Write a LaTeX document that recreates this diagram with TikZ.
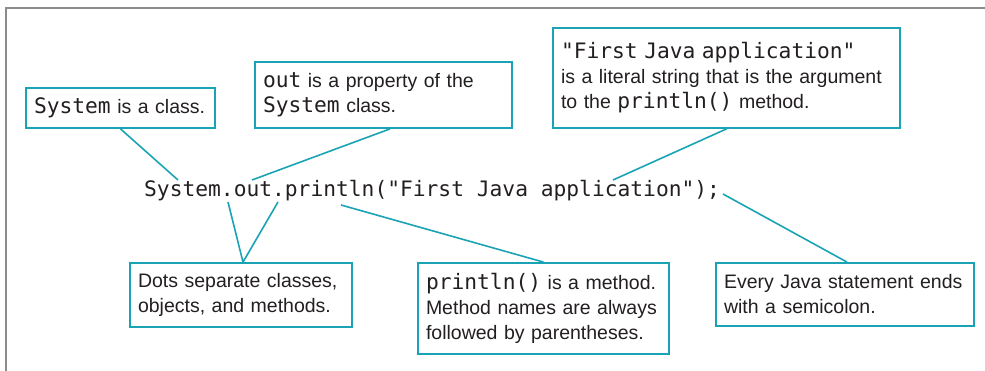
\documentclass[tikz,border=0pt]{standalone}
\usepackage{fontspec}
\setmainfont{Liberation Sans}
\setmonofont{DejaVu Sans Mono}[Scale=1.09]
\definecolor{teal1}{HTML}{1AA3B4}
\definecolor{frame1}{HTML}{8C8C8C}
\definecolor{ink}{HTML}{231F20}
\tikzset{
  callout/.style={draw=teal1, line width=1.8pt, fill=white, inner xsep=8pt, inner ysep=0pt,
    align=left, text=ink, font=\fontsize{19.5}{25}\selectfont, anchor=center},
  link/.style={draw=teal1, line width=1.6pt}
}
\begin{document}
\begin{tikzpicture}[x=1pt,y=-1pt]
\useasboundingbox (0,0) rectangle (985,371);
\draw[frame1, line width=2pt] (6,371) -- (6,8) -- (985,8);

\node[anchor=base west, inner sep=0pt, text=ink, font=\fontsize{19.5}{25}\selectfont\ttfamily] (code) at (144,197)
  {System.out.println("First Java application");};

\coordinate (cSys) at (178,180);
\coordinate (cOut) at (252,180);
\coordinate (cStr) at (613,180);
\coordinate (cDot1) at (228,202);
\coordinate (cDot2) at (278,202);
\coordinate (cPrn) at (341,205);
\coordinate (cSemi) at (723,194);

\node[callout, minimum width=189pt, minimum height=40pt, text width=173pt] (b1) at (120.5,108)
  {\texttt{System} is a class.};
\node[callout, minimum width=257pt, minimum height=66pt, text width=241pt] (b2) at (383.5,95)
  {\texttt{out} is a property of the\\\texttt{System} class.};
\node[callout, minimum width=347pt, minimum height=100pt, text width=331pt] (b3) at (726.5,78)
  {\texttt{"First Java application"}\\is a literal string that is the argument\\to the \texttt{println()} method.};
\node[callout, minimum width=222pt, minimum height=64pt, text width=206pt] (b4) at (241,295)
  {Dots separate classes,\\objects, and methods.};
\node[callout, minimum width=251pt, minimum height=91pt, text width=235pt] (b5) at (543.5,308.5)
  {\texttt{println()} is a method.\\Method names are always\\followed by parentheses.};
\node[callout, minimum width=258pt, minimum height=63pt, text width=242pt] (b6) at (845,294.5)
  {Every Java statement ends\\with a semicolon.};

\draw[link] (b1.south) -- (cSys);
\draw[link] ([xshift=6.5pt]b2.south) -- (cOut);
\draw[link] (b3.south) -- (cStr);
\draw[link] (cDot1) -- ([xshift=2pt]b4.north) -- (cDot2);
\draw[link] (cPrn) -- (b5.north);
\draw[link] (cSemi) -- ([xshift=2pt]b6.north);
\end{tikzpicture}
\end{document}
